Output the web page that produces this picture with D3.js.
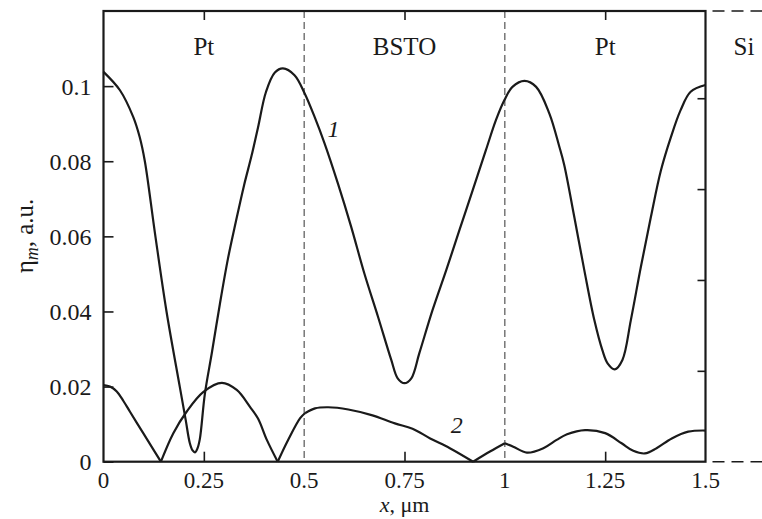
<!DOCTYPE html>
<html>
<head>
<meta charset="utf-8">
<script src="https://cdn.jsdelivr.net/npm/d3@7"></script>
<style>
  body { margin: 0; background: #fff; }
  svg text { font-family: 'Liberation Serif', 'Times New Roman', 'DejaVu Serif', serif; fill: #1a1a1a; }
</style>
</head>
<body>
<div id="chart"></div>
<script>
// chart values
var xTicks = [0, 0.25, 0.5, 0.75, 1, 1.25, 1.5]
var xTickLabels = ["0", "0.25", "0.5", "0.75", "1", "1.25", "1.5"]
var xMinorTicks = [0.25, 0.75, 1.25]
var yTicks = [0, 0.02, 0.04, 0.06, 0.08, 0.1]
var yTickLabels = ["0", "0.02", "0.04", "0.06", "0.08", "0.1"]
var siTicks = [1, 2, 3, 4]
var siMax = 4.96
var boundaries = [0.5, 1]
var layers = [
  {name: "Pt", x: 0.25},
  {name: "BSTO", x: 0.75},
  {name: "Pt", x: 1.25}
]

var curve1 = [[0,0.1038],[0.041,0.0989],[0.074,0.0918],[0.090,0.0865],[0.103,0.0800],[0.128,0.0610],
  [0.157,0.0400],[0.190,0.0200],[0.205,0.0110],[0.215,0.0050],[0.222,0.0030],[0.228,0.0025],
  [0.234,0.0035],[0.240,0.0060],[0.2525,0.0180],[0.270,0.0290],[0.290,0.0420],[0.310,0.0540],
  [0.330,0.0640],[0.350,0.0735],[0.369,0.0815],[0.385,0.0890],[0.405,0.0985],
  [0.427,0.1036],[0.447,0.1047],[0.476,0.1029],[0.501,0.0981],[0.526,0.0918],[0.551,0.0847],
  [0.584,0.0741],[0.617,0.0626],[0.650,0.0501],[0.684,0.0386],[0.717,0.0271],[0.733,0.0222],
  [0.750,0.0209],[0.767,0.0222],[0.787,0.0289],[0.820,0.0404],[0.854,0.0510],[0.887,0.0617],
  [0.920,0.0723],[0.953,0.0830],[0.978,0.0910],[0.999,0.0963],[1.019,0.0998],[1.049,0.1014],
  [1.078,0.0998],[1.111,0.0927],[1.136,0.0838],[1.148,0.0790],[1.173,0.0652],[1.198,0.0510],
  [1.223,0.0377],[1.243,0.0297],[1.256,0.0262],[1.274,0.0246],[1.293,0.0271],[1.314,0.0377],
  [1.339,0.0519],[1.364,0.0652],[1.389,0.0776],[1.414,0.0865],[1.438,0.0936],[1.463,0.0985],
  [1.5,0.1003]]

var curve2 = [[0,0.0204],[0.016,0.0200],[0.033,0.0187],[0.050,0.0161],[0.066,0.0133],[0.099,0.0076],
  [0.124,0.0033],[0.143,0],
  [0.174,0.0076],[0.207,0.0133],[0.249,0.0186],[0.295,0.0210],[0.332,0.0191],[0.365,0.0146],
  [0.385,0.0115],[0.407,0.0058],[0.434,0],[0.460,0.0058],[0.490,0.0116],[0.502,0.0129],
  [0.527,0.0142],[0.560,0.0145],[0.610,0.0139],[0.668,0.0124],[0.726,0.0102],[0.770,0.0088],
  [0.814,0.0062],[0.863,0.0036],[0.921,0],[0.963,0.0027],[1.0,0.0049],[1.021,0.0040],
  [1.055,0.0024],[1.096,0.0036],[1.129,0.0058],[1.155,0.0073],[1.200,0.0084],[1.250,0.0076],
  [1.291,0.0049],[1.320,0.0029],[1.349,0.0022],[1.378,0.0036],[1.416,0.0062],[1.457,0.0080],
  [1.5,0.0083]]
// sharp corners of curve 2 (zeros and layer boundaries)
var curve2Cusps = [0.143, 0.434, 0.502, 0.921, 1.0]

var margin = {top: 11, right: 56.5, bottom: 57.3, left: 103.5},
    width = 762 - margin.left - margin.right,
    height = 519 - margin.top - margin.bottom;

var root = d3.select("#chart")
  .append("svg")
    .attr("width", 762)
    .attr("height", 519)
    .attr("font-family", "'Liberation Serif', 'Times New Roman', 'DejaVu Serif', serif")
var svg = root.append("g")
    .attr("transform", "translate(" + margin.left + "," + margin.top + ")");

var x = d3.scaleLinear().domain([0, 1.5]).range([0, width])
var y = d3.scaleLinear().domain([0, 0.12]).range([height, 0])
var ySi = d3.scaleLinear().domain([0, siMax]).range([height, 0])

var ink = "#1a1a1a"

// layer boundaries
svg.selectAll(".bound")
  .data(boundaries)
  .enter().append("line")
    .attr("x1", function(d) { return x(d); })
    .attr("x2", function(d) { return x(d); })
    .attr("y1", 0)
    .attr("y2", height)
    .attr("stroke", "#555")
    .attr("stroke-width", 1.2)
    .attr("stroke-dasharray", "7,4")

// dashed lines into the Si region
svg.selectAll(".si")
  .data([0, height])
  .enter().append("line")
    .attr("x1", width + 7)
    .attr("x2", 762 - margin.left)
    .attr("y1", function(d) { return d; })
    .attr("y2", function(d) { return d; })
    .attr("stroke", ink)
    .attr("stroke-width", 1.4)
    .attr("stroke-dasharray", "12,7")

// left axis ticks (inward)
svg.append("g")
  .call(d3.axisRight(y).tickValues(yTicks).tickSize(10).tickFormat(""))
  .call(function(g) { g.select(".domain").remove(); })
  .selectAll("line").attr("stroke", ink).attr("stroke-width", 1.6)

svg.selectAll(".ylab")
  .data(yTicks)
  .enter().append("text")
    .attr("x", -12)
    .attr("y", function(d) { return y(d); })
    .attr("dy", "0.35em")
    .attr("text-anchor", "end")
    .attr("font-size", 24)
    .text(function(d, i) { return yTickLabels[i]; })

// bottom and top ticks
svg.append("g")
  .attr("transform", "translate(0," + height + ")")
  .call(d3.axisTop(x).tickValues(xMinorTicks).tickSize(10).tickFormat(""))
  .call(function(g) { g.select(".domain").remove(); })
  .selectAll("line").attr("stroke", ink).attr("stroke-width", 1.6)

svg.append("g")
  .call(d3.axisBottom(x).tickValues(xMinorTicks).tickSize(9).tickFormat(""))
  .call(function(g) { g.select(".domain").remove(); })
  .selectAll("line").attr("stroke", ink).attr("stroke-width", 1.6)

svg.selectAll(".xlab")
  .data(xTicks)
  .enter().append("text")
    .attr("x", function(d) { return x(d); })
    .attr("y", height + 26)
    .attr("text-anchor", "middle")
    .attr("font-size", 23)
    .text(function(d, i) { return xTickLabels[i]; })

// right (Si) axis ticks
svg.append("g")
  .attr("transform", "translate(" + width + ",0)")
  .call(d3.axisLeft(ySi).tickValues(siTicks).tickSize(8).tickFormat(""))
  .call(function(g) { g.select(".domain").remove(); })
  .selectAll("line").attr("stroke", ink).attr("stroke-width", 1.6)

// frame
svg.append("rect")
  .attr("width", width)
  .attr("height", height)
  .attr("fill", "none")
  .attr("stroke", ink)
  .attr("stroke-width", 2.2)

// curves
var line = d3.line()
  .x(function(d) { return x(d[0]); })
  .y(function(d) { return y(d[1]); })
  .curve(d3.curveCatmullRom.alpha(0.5))

// break curve 2 at its corners so they stay sharp
var segs2 = []
var cur = []
curve2.forEach(function(p) {
  cur.push(p)
  if (curve2Cusps.indexOf(p[0]) >= 0) { segs2.push(cur); cur = [p] }
})
segs2.push(cur)

svg.selectAll(".curve")
  .data([curve1].concat(segs2))
  .enter().append("path")
    .attr("d", line)
    .attr("fill", "none")
    .attr("stroke", ink)
    .attr("stroke-width", 2.2)
    .attr("stroke-linejoin", "round")

// layer names
svg.selectAll(".layer")
  .data(layers)
  .enter().append("text")
    .attr("x", function(d) { return x(d.x); })
    .attr("y", 44)
    .attr("text-anchor", "middle")
    .attr("font-size", 25)
    .text(function(d) { return d.name; })

svg.append("text")
  .attr("x", 744 - margin.left)
  .attr("y", 44)
  .attr("text-anchor", "middle")
  .attr("font-size", 25)
  .text("Si")

// curve numbers
svg.append("text")
  .attr("x", x(0.573))
  .attr("y", y(0.0865))
  .attr("text-anchor", "middle")
  .attr("font-size", 24)
  .attr("font-style", "italic")
  .text("1")

svg.append("text")
  .attr("x", x(0.88))
  .attr("y", y(0.0077))
  .attr("text-anchor", "middle")
  .attr("font-size", 24)
  .attr("font-style", "italic")
  .text("2")

// axis titles
var xt = svg.append("text")
  .attr("x", x(0.75))
  .attr("y", height + 50)
  .attr("text-anchor", "middle")
  .attr("font-size", 22)
xt.append("tspan").attr("font-style", "italic").text("x")
xt.append("tspan").text(", \u03bcm")

var yt = svg.append("text")
  .attr("transform", "translate(" + (33 - margin.left) + "," + (236 - margin.top) + ") rotate(-90)")
  .attr("text-anchor", "middle")
  .attr("font-size", 25)
yt.append("tspan").text("\u03b7")
yt.append("tspan").attr("font-style", "italic").attr("font-size", 18).attr("dy", 5).text("m")
yt.append("tspan").attr("dy", -5).text(", a.u.")
</script>
</body>
</html>
